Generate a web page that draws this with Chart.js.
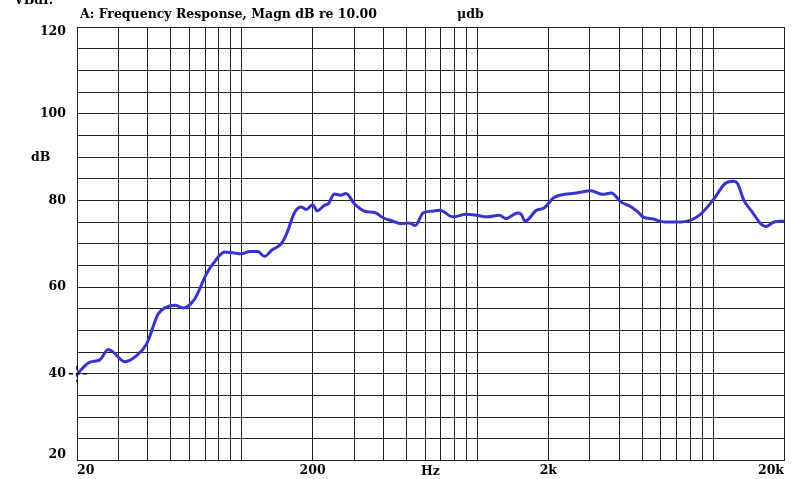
<!DOCTYPE html>
<html>
<head>
<meta charset="utf-8">
<script src="https://cdn.jsdelivr.net/npm/chart.js@4"></script>
<style>
  html, body { margin: 0; padding: 0; background: #fff; }
  #wrap { width: 794px; height: 479px; position: relative; }
</style>
</head>
<body>
<div id="wrap"><canvas id="chart"></canvas></div>
<script>
// frequency (Hz) and level (dB)
const freqs = [20, 22.7, 25.0, 27.1, 28.5, 31.9, 35.8, 39.5, 44.2, 48, 52.1, 56.4, 63.2, 70.9, 75.6, 84.7, 91.9, 99.8,
    108, 117, 125, 134, 147, 155, 168, 179, 188, 200, 209, 225, 233, 247, 262, 277, 301, 333, 367, 398, 438, 474, 514, 545,
    588, 636, 694, 787, 896, 987, 1104, 1239, 1322, 1481, 1530, 1594, 1778, 1925, 2104, 2344, 2632, 3038, 3402, 3696,
    4078, 4495, 4808, 5048, 5570, 6250, 7014, 7988, 8812, 10040, 11260, 12220, 12700, 13520, 14680, 15950, 16740, 18170, 20000];
const levels = [40.0, 42.7, 43.2, 45.6, 45.0, 42.8, 44.2, 46.9, 53.8, 55.4, 55.8, 55.2, 57.3, 63.1, 65.4, 68.1, 67.9, 67.7,
    68.2, 68.2, 67.1, 68.5, 70.0, 72.3, 77.3, 78.5, 77.9, 79.0, 77.6, 78.9, 79.2, 81.5, 81.2, 81.6, 79.2, 77.5, 77.2, 76.0, 75.2, 74.6, 74.8, 74.2,
    77.1, 77.5, 77.7, 76.2, 76.8, 76.6, 76.2, 76.6, 75.8, 77.1, 76.9, 75.2, 77.7, 78.3, 80.6, 81.4, 81.7, 82.2, 81.4, 81.7,
    79.6, 78.5, 77.3, 76.2, 75.7, 75.0, 75.0, 75.4, 76.7, 80.2, 83.9, 84.4, 83.9, 80.0, 77.3, 74.6, 74.0, 75.0, 75.2];

const xGrid = [20, 30, 40, 50, 60, 70, 80, 90, 100, 200, 300, 400, 500, 600, 700, 800, 900, 1000,
    2000, 3000, 4000, 5000, 6000, 7000, 8000, 9000, 10000, 20000];
const xLabels = { 20: '20', 200: '200', 2000: '2k', 20000: '20k' };
const yLabels = [40, 60, 80, 100];   // 20 and 120 are drawn inside the frame edges below

const FONT = "'DejaVu Serif', 'Liberation Serif', serif";

const textPlugin = {
    id: 'texts',
    afterDraw(c) {
        const g = c.ctx;
        const a = c.chartArea;
        const ys = c.scales.y;
        g.save();
        g.fillStyle = '#000';
        g.font = 'bold 12.5px ' + FONT;
        g.textBaseline = 'alphabetic';
        g.textAlign = 'left';
        g.fillText('VBdI.', 14, 4);
        g.fillText('A: Frequency Response, Magn dB re 10.00', 80, 18);
        g.fillText('\u03bcdb', 457, 18);
        g.fillText('dB', 31, 161);
        g.textAlign = 'center';
        g.fillText('Hz', (a.left + a.right) / 2, 475);
        g.textAlign = 'right';
        g.textBaseline = 'middle';
        g.fillText('120', a.left - 11, ys.getPixelForValue(120) + 5);
        g.fillText('20', a.left - 11, ys.getPixelForValue(20) - 6);
        // cursor marker at the first point
        const x0 = c.scales.x.getPixelForValue(freqs[0]);
        const y0 = ys.getPixelForValue(levels[0]);
        g.strokeStyle = '#000';
        g.lineWidth = 1.5;
        g.setLineDash([4, 3]);
        g.beginPath();
        g.moveTo(x0, y0 - 8); g.lineTo(x0, y0 + 8);
        g.moveTo(x0 - 8, y0); g.lineTo(x0 + 10, y0);
        g.stroke();
        g.restore();
    }
};

new Chart(document.getElementById('chart'), {
    type: 'line',
    data: {
        datasets: [{
            data: freqs.map((f, i) => ({ x: f, y: levels[i] })),
            borderColor: '#3535cc',
            borderWidth: 3,
            pointRadius: 0,
            tension: 0.3,
            cubicInterpolationMode: 'monotone'
        }]
    },
    options: {
        responsive: true,
        maintainAspectRatio: false,
        animation: false,
        layout: { padding: { top: 27, right: 10, left: 0, bottom: 0 } },
        plugins: { legend: { display: false }, tooltip: { enabled: false } },
        scales: {
            x: {
                type: 'logarithmic',
                min: 20, max: 20000,
                afterBuildTicks: s => { s.ticks = xGrid.map(v => ({ value: v })); },
                afterFit: s => { s.height = 18; },
                grid: { color: '#222', lineWidth: 1, drawTicks: false },
                border: { color: '#222', width: 1 },
                ticks: {
                    autoSkip: false, maxRotation: 0, padding: 3, align: 'inner',
                    color: '#000', font: { family: FONT, size: 12.5, weight: 'bold' },
                    callback: v => xLabels[v] || ''
                }
            },
            y: {
                min: 20, max: 120,
                afterFit: s => { s.width = 77; },
                grid: { color: '#222', lineWidth: 1, drawTicks: false },
                border: { color: '#222', width: 1 },
                ticks: {
                    stepSize: 5, autoSkip: false, padding: 11,
                    color: '#000', font: { family: FONT, size: 12.5, weight: 'bold' },
                    callback: v => yLabels.includes(v) ? String(v) : ''
                }
            }
        }
    },
    plugins: [textPlugin]
});
</script>
</body>
</html>
